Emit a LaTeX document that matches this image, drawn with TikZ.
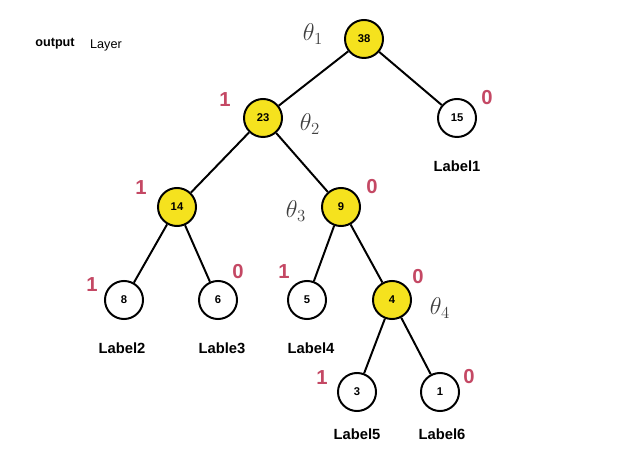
\documentclass[tikz,border=0pt]{standalone}
\usepackage{fontspec}
\setsansfont{Liberation Sans}
\usepackage{tikz}
\definecolor{nodeyellow}{RGB}{245,226,30}
\definecolor{bitred}{RGB}{196,72,100}

\begin{document}
\begin{tikzpicture}[
  tnode/.style={circle, draw=black, line width=1.4pt, minimum size=1cm-\pgflinewidth, inner sep=0pt, font=\sffamily\bfseries\footnotesize},
  edge/.style={line width=1.4pt},
  leaftext/.style={font=\sffamily\bfseries\fontsize{10.5}{12}\selectfont},
  bit/.style={font=\sffamily\bfseries\Large, text=bitred},
  theta/.style={font=\LARGE, text=black!75}]
\useasboundingbox (0,0) rectangle (15.425,-11.3);

\node[font=\sffamily\bfseries\small] (out) at (1.375,-1.1) {output};
\node[font=\sffamily\small] (layer) at (2.65,-1.125) {Layer};

\node[tnode, fill=nodeyellow] (n38) at (9.1,-0.975) {38};
\node[tnode, fill=nodeyellow] (n23) at (6.575,-2.95) {23};
\node[tnode, fill=white] (n15) at (11.425,-2.95) {15};
\node[tnode, fill=nodeyellow] (n14) at (4.425,-5.175) {14};
\node[tnode, fill=nodeyellow] (n9) at (8.525,-5.175) {9};
\node[tnode, fill=white] (n8) at (3.1,-7.5) {8};
\node[tnode, fill=white] (n6) at (5.45,-7.5) {6};
\node[tnode, fill=white] (n5) at (7.675,-7.5) {5};
\node[tnode, fill=nodeyellow] (n4) at (9.8,-7.5) {4};
\node[tnode, fill=white] (n3) at (8.925,-9.8) {3};
\node[tnode, fill=white] (n1) at (11.0,-9.8) {1};

\draw[edge] (n38) -- (n23);
\draw[edge] (n38) -- (n15);
\draw[edge] (n23) -- (n14);
\draw[edge] (n23) -- (n9);
\draw[edge] (n14) -- (n8);
\draw[edge] (n14) -- (n6);
\draw[edge] (n9) -- (n5);
\draw[edge] (n9) -- (n4);
\draw[edge] (n4) -- (n3);
\draw[edge] (n4) -- (n1);

% leaf labels
\node[leaftext] (lab1) at (11.425,-4.15) {Label1};
\node[leaftext] (lab2) at (3.05,-8.7) {Label2};
\node[leaftext] (lab3) at (5.55,-8.7) {Lable3};
\node[leaftext] (lab4) at (7.775,-8.7) {Label4};
\node[leaftext] (lab5) at (8.925,-10.85) {Label5};
\node[leaftext] (lab6) at (11.05,-10.85) {Label6};

% parameters
\node[theta] (t1) at (7.825,-0.85) {$\theta_1$};
\node[theta] (t2) at (7.75,-3.1) {$\theta_2$};
\node[theta] (t3) at (7.4,-5.27) {$\theta_3$};
\node[theta] (t4) at (11,-7.7) {$\theta_4$};

% codes
\node[bit] (b23) at (5.625,-2.5) {1};
\node[bit] (b15) at (12.175,-2.45) {0};
\node[bit] (b14) at (3.525,-4.7) {1};
\node[bit] (b9) at (9.3,-4.675) {0};
\node[bit] (b8) at (2.3,-7.125) {1};
\node[bit] (b6) at (5.95,-6.8) {0};
\node[bit] (b5) at (7.1,-6.8) {1};
\node[bit] (b4) at (10.45,-6.925) {0};
\node[bit] (b3) at (8.05,-9.45) {1};
\node[bit] (b1) at (11.725,-9.425) {0};
\end{tikzpicture}
\end{document}
